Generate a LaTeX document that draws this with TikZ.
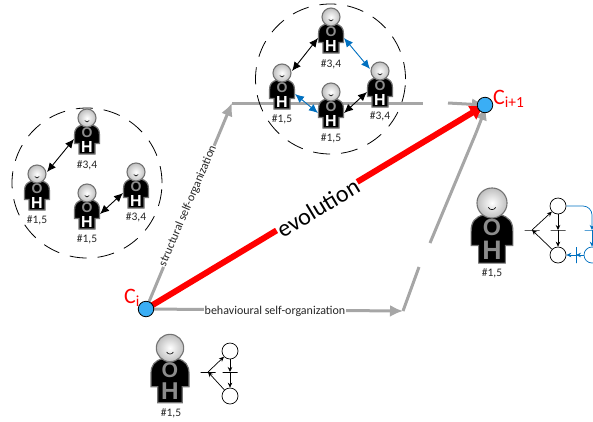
\documentclass[tikz,border=0pt]{standalone}
\usepackage{fontspec}
\setmainfont{Carlito}
\newfontfamily\iconfont{Liberation Sans}
\usetikzlibrary{arrows.meta}
\definecolor{linegray}{RGB}{166,166,166}
\definecolor{nodeblue}{RGB}{58,174,245}
\definecolor{netblue}{RGB}{0,112,192}
\tikzset{
    person/.pic={
        \draw[draw=black!55, fill=black, line width=1.2pt] (-5,7) .. controls (-10,8.5) and (-12.5,11) .. (-12.5,17) -- (-12.5,25.5) -- (-8,25.5) -- (-8,36) -- (8,36) -- (8,25.5) -- (12.5,25.5) -- (12.5,17) .. controls (12.5,11) and (10,8.5) .. (5,7) -- cycle;
        \draw[draw=black!55, line width=1.1pt, inner color=white, outer color=black!25] (0,0) circle (9);
        \draw[line width=0.6pt] (-2.2,2.6) .. controls (-1.5,4.4) and (1.5,4.4) .. (2.2,2.6);
        \node[transform shape, inner sep=0pt, text=black!45, font=\iconfont\bfseries\fontsize{14}{14}\selectfont] (-o) at (0,14.5) {O};
        \node[transform shape, inner sep=0pt, text=#1, font=\iconfont\bfseries\fontsize{16}{16}\selectfont] (-h) at (0,28.5) {H};
        \coordinate (-hl) at (-10,-2);
        \coordinate (-hr) at (10,-2);
        \coordinate (-sl) at (-13,21);
        \coordinate (-sr) at (13,21);
    },
    ring/.style={circle, draw=black, line width=0.8pt, dash pattern=on 17pt off 11pt, inner sep=0pt},
    tag/.style={inner sep=0pt, font=\fontsize{11.5}{11.5}\selectfont, text=black!85},
    link/.style={{Latex[length=9pt,width=8pt]}-{Latex[length=9pt,width=8pt]}, line width=0.9pt},
    bluelink/.style={link, draw=netblue, {Latex[length=9pt,width=8pt,color=netblue]}-{Latex[length=9pt,width=8pt,color=netblue]}},
    track/.style={draw=linegray, line width=3pt},
    trackarrow/.style={track, -{Latex[length=13pt,width=12pt]}},
    state/.style={circle, draw=black, minimum size=15.5pt, inner sep=0pt, fill=nodeblue, line width=0.8pt},
    place/.style={circle, draw=black, fill=white, minimum size=16pt, inner sep=0pt, line width=0.7pt},
    hbar/.style={draw=black, minimum width=15pt, minimum height=0pt, inner sep=0pt, line width=0.7pt},
    vbar/.style={draw=black, minimum width=0pt, minimum height=16pt, inner sep=0pt, line width=0.7pt},
    arc/.style={-{Stealth[length=5pt,width=4.5pt]}, line width=0.7pt},
    caption/.style={inner sep=0.5pt, fill=white, font=\fontsize{12}{12}\selectfont, text=black!85},
}
\begin{document}
\begin{tikzpicture}[x=1pt, y=-1pt]
    \useasboundingbox (0,0) rectangle (593,421);

    % evolution states and the corners of both routes
    \coordinate (upcorner) at (232,103);
    \coordinate (upgapa) at (423,103);
    \coordinate (upgapb) at (448,103);
    \coordinate (lowcorner) at (403,311);
    \coordinate (lowgapa) at (419,267);
    \coordinate (lowgapb) at (430,243);
    \coordinate (lowgapc) at (476,133);
    \coordinate (lowgapd) at (486,107);
    \coordinate (cnow) at (146,309);
    \coordinate (cnext) at (485,105);

    \draw[trackarrow] (cnow) -- (upcorner);
    \draw[track] (upcorner) -- (upgapa);
    \draw[trackarrow] (upgapb) -- (cnext);
    \draw[trackarrow] (cnow) -- (lowcorner);
    \draw[track] (lowcorner) -- (lowgapa);
    \draw[track] (lowgapb) -- (lowgapc);
    \draw[trackarrow] (lowgapc) -- (lowgapd);
    \draw[red, line width=6pt, -{Latex[length=15pt,width=17pt]}] (cnow) -- (cnext);

    \node[state] (ci) at (cnow) {};
    \node[state] (cj) at (cnext) {};
    \node[inner sep=0pt, text=red, font=\fontsize{22}{22}\selectfont] (cilabel) at (132,298) {C\textsubscript{i}};
    \node[inner sep=0pt, text=red, anchor=west, font=\fontsize{22}{22}\selectfont] (cjlabel) at (493,99) {C\textsubscript{i+1}};

    \node[inner sep=1pt, fill=white, rotate=31, font=\fontsize{24}{24}\selectfont] (evo) at (318,208) {evolution};
    \node[caption, rotate=67] (structural) at (188,206) {structural self-organization};
    \node[caption] (behavioural) at (275,311) {behavioural self-organization};

    % left group
    \node[ring, minimum size=150pt] (ringa) at (87,183) {};
    \pic (a) at (87,118) {person=white};
    \pic (b) at (37,174) {person=white};
    \pic (c) at (87,193) {person=white};
    \pic (d) at (136,172) {person=white};
    \node[tag] (taga) at (87,165) {\#3,4};
    \node[tag] (tagb) at (37,220) {\#1,5};
    \node[tag] (tagc) at (87,239) {\#1,5};
    \node[tag] (tagd) at (136,217) {\#3,4};
    \draw[link] (b-hr) -- (a-sl);
    \draw[link] (c-sr) -- (d-sl);

    % top group
    \node[ring, minimum size=150pt] (ringb) at (330.5,79) {};
    \pic (e) at (331,17) {person=white};
    \pic (f) at (282,73) {person=white};
    \pic (g) at (331,92) {person=white};
    \pic (h) at (380,71) {person=white};
    \node[tag] (tage) at (331,64) {\#3,4};
    \node[tag] (tagf) at (282,119) {\#1,5};
    \node[tag] (tagg) at (331,138) {\#1,5};
    \node[tag] (tagh) at (380,116) {\#3,4};
    \draw[link] (f-hr) -- (e-sl);
    \draw[bluelink] (e-sr) -- (h-hl);
    \draw[link] (g-sr) -- (h-sl);
    \draw[bluelink] (f-sr) -- (g-sl);

    % bottom person and net
    \pic (i) [scale=1.52] at (170,348) {person=black!45};
    \node[tag] (tagi) at (171,413) {\#1,5};
    \node[place] (pa) at (230,351) {};
    \node[place] (pb) at (230,396) {};
    \node[hbar] (ta) at (208,372) {};
    \node[hbar] (tb) at (230,372) {};
    \draw[arc] (pb) -- (ta.center);
    \draw[arc] (ta.center) -- (pa);
    \draw[arc] (pa) -- (tb.center);
    \draw[arc] (tb.center) -- (pb);

    % right person and net
    \pic (j) [scale=1.67] at (492,203) {person=black!45};
    \node[tag] (tagj) at (492,273) {\#1,5};
    \node[place] (pc) at (558,206) {};
    \node[place] (pd) at (558,255) {};
    \node[place, draw=netblue] (pe) at (592,255) {};
    \node[hbar] (tc) at (532,230) {};
    \node[hbar] (td) at (558,230) {};
    \node[hbar, draw=netblue] (te) at (592,230) {};
    \node[vbar, draw=netblue] (tf) at (576,255) {};
    \draw[arc] (pd) -- (tc.center);
    \draw[arc] (tc.center) -- (pc);
    \draw[arc] (pc) -- (td.center);
    \draw[arc] (td.center) -- (pd);
    \draw[arc, draw=netblue, rounded corners=9pt] (pc.east) -| (te.center);
    \draw[arc, draw=netblue] (te.center) -- (pe);
    \draw[arc, draw=netblue] (pe) -- (tf.center);
    \draw[arc, draw=netblue] (tf.center) -- (pd);
\end{tikzpicture}
\end{document}
